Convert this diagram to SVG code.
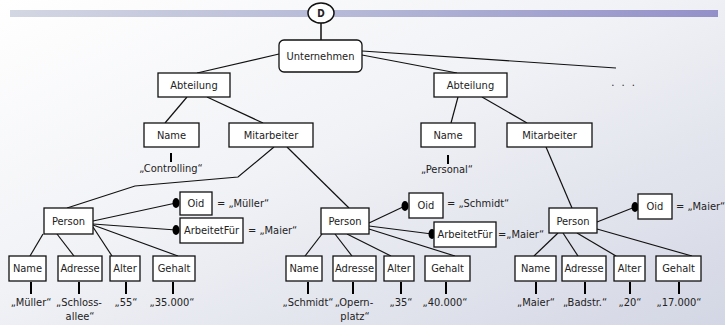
<svg xmlns="http://www.w3.org/2000/svg" width="725" height="325" viewBox="0 0 725 325">
<defs>
<linearGradient id="bg" x1="0" y1="0" x2="1" y2="1">
<stop offset="0" stop-color="#ffffff"/>
<stop offset="0.45" stop-color="#f1f2f6"/>
<stop offset="1" stop-color="#d3d6e4"/>
</linearGradient>
<linearGradient id="bar" x1="0" y1="0" x2="1" y2="0">
<stop offset="0" stop-color="#d3d7e3"/>
<stop offset="0.5" stop-color="#b4b7d6"/>
<stop offset="1" stop-color="#9390c9"/>
</linearGradient>
<style>
text{font-family:"DejaVu Sans Condensed","DejaVu Sans","Liberation Sans",sans-serif;font-size:11px;fill:#222;font-stretch:condensed}
.c{text-anchor:middle}
.box{fill:#fff;stroke:#111;stroke-width:1.3}
.ln{stroke:#111;stroke-width:1.2;fill:none}
.tk{stroke:#000;stroke-width:2}
.dot{fill:#000}
</style>
</defs>
<rect width="725" height="325" fill="url(#bg)"/>
<rect x="10" y="10" width="708" height="7" fill="url(#bar)"/>

<g id="connectors">
<line class="ln" x1="321" y1="23" x2="321" y2="40" style="stroke-width:1.5"/>
<line class="ln" x1="279" y1="54" x2="197" y2="73"/>
<line class="ln" x1="362" y1="55" x2="457" y2="73"/>
<line class="ln" x1="362" y1="51" x2="616" y2="68"/>
<line class="ln" x1="187" y1="97" x2="165" y2="123"/>
<line class="ln" x1="207" y1="97" x2="263" y2="123"/>
<line class="ln" x1="458" y1="97" x2="451" y2="123"/>
<line class="ln" x1="482" y1="97" x2="527" y2="123"/>
<polyline class="ln" points="274,147 238,177 135,186 67,208"/>
<line class="ln" x1="287" y1="147" x2="349" y2="208"/>
<line class="ln" x1="546" y1="147" x2="572" y2="208"/>
<line class="ln" x1="93" y1="221" x2="176" y2="203"/>
<line class="ln" x1="93" y1="224" x2="176" y2="230"/>
<line class="ln" x1="43" y1="234" x2="30" y2="256"/>
<line class="ln" x1="57" y1="234" x2="74" y2="256"/>
<line class="ln" x1="93" y1="227" x2="112" y2="256"/>
<line class="ln" x1="93" y1="225" x2="178" y2="256"/>
<line class="ln" x1="369" y1="223" x2="405" y2="206"/>
<line class="ln" x1="369" y1="226" x2="432" y2="234"/>
<line class="ln" x1="369" y1="229" x2="455" y2="256"/>
<line class="ln" x1="322" y1="234" x2="305" y2="256"/>
<line class="ln" x1="335" y1="234" x2="352" y2="256"/>
<line class="ln" x1="347" y1="234" x2="391" y2="256"/>
<line class="ln" x1="597" y1="222" x2="635" y2="207"/>
<line class="ln" x1="597" y1="229" x2="692" y2="256"/>
<line class="ln" x1="558" y1="233" x2="534" y2="256"/>
<line class="ln" x1="563" y1="233" x2="578" y2="256"/>
<line class="ln" x1="577" y1="233" x2="616" y2="256"/>
<ellipse class="dot" cx="176" cy="203" rx="3.5" ry="5"/>
<ellipse class="dot" cx="176" cy="230" rx="3.5" ry="5"/>
<ellipse class="dot" cx="405" cy="206" rx="3.5" ry="5"/>
<ellipse class="dot" cx="432" cy="234" rx="3.5" ry="5"/>
<ellipse class="dot" cx="635" cy="207" rx="3.5" ry="5"/>
<line class="tk" x1="171" y1="153" x2="171" y2="162"/>
<line class="tk" x1="448" y1="155" x2="448" y2="164"/>
<line class="tk" x1="31" y1="282" x2="31" y2="294"/>
<line class="tk" x1="79" y1="282" x2="79" y2="294"/>
<line class="tk" x1="126" y1="282" x2="126" y2="294"/>
<line class="tk" x1="173" y1="282" x2="173" y2="294"/>
<line class="tk" x1="308" y1="282" x2="308" y2="294"/>
<line class="tk" x1="353" y1="282" x2="353" y2="294"/>
<line class="tk" x1="401" y1="282" x2="401" y2="294"/>
<line class="tk" x1="446" y1="282" x2="446" y2="294"/>
<line class="tk" x1="536" y1="282" x2="536" y2="294"/>
<line class="tk" x1="585" y1="282" x2="585" y2="294"/>
<line class="tk" x1="630" y1="282" x2="630" y2="294"/>
<line class="tk" x1="679" y1="282" x2="679" y2="294"/>
</g>

<g id="d"><ellipse cx="321" cy="13" rx="13" ry="10" fill="#fff" stroke="#111" stroke-width="1.5"/><text class="c" x="321" y="17" style="font-weight:bold;font-size:10px">D</text></g>
<g id="unternehmen"><rect class="box" x="279" y="40" width="83" height="32" rx="5"/><text class="c" x="320.5" y="60">Unternehmen</text></g>
<g id="abt1"><rect class="box" x="158" y="73" width="72" height="24"/><text class="c" x="194" y="89">Abteilung</text></g>
<g id="abt2"><rect class="box" x="434" y="73" width="73" height="24"/><text class="c" x="470.5" y="89">Abteilung</text></g>
<g id="more"><text class="c" x="624" y="86" style="letter-spacing:2px">. . .</text></g>
<g id="name1"><rect class="box" x="144" y="123" width="55" height="24"/><text class="c" x="171.5" y="139">Name</text></g>
<g id="mit1"><rect class="box" x="229" y="123" width="84" height="24"/><text class="c" x="271" y="139">Mitarbeiter</text></g>
<g id="name2"><rect class="box" x="421" y="123" width="54" height="24"/><text class="c" x="448" y="139">Name</text></g>
<g id="mit2"><rect class="box" x="507" y="123" width="85" height="24"/><text class="c" x="549.5" y="139">Mitarbeiter</text></g>
<g id="val-controlling"><text class="c" x="171" y="172">„Controlling“</text></g>
<g id="val-personal"><text class="c" x="447" y="173">„Personal“</text></g>

<g id="person1"><rect class="box" x="44" y="208" width="49" height="26"/><text class="c" x="68.5" y="225">Person</text></g>
<g id="oid1"><rect class="box" x="180" y="192" width="32" height="23"/><text class="c" x="196" y="207">Oid</text><text x="217" y="207">= „Müller“</text></g>
<g id="af1"><rect class="box" x="180" y="218" width="63" height="25"/><text class="c" x="211.5" y="234">ArbeitetFür</text><text x="248" y="234">= „Maier“</text></g>
<g id="p1name"><rect class="box" x="9" y="256" width="37" height="25"/><text class="c" x="27.5" y="272">Name</text><text class="c" x="31" y="306">„Müller“</text></g>
<g id="p1adr"><rect class="box" x="58" y="256" width="44" height="25"/><text class="c" x="80" y="272">Adresse</text><text class="c" x="79" y="306">„Schloss-</text><text class="c" x="80" y="320">allee“</text></g>
<g id="p1alter"><rect class="box" x="110" y="256" width="30" height="25"/><text class="c" x="125" y="272">Alter</text><text class="c" x="126" y="306">„55“</text></g>
<g id="p1geh"><rect class="box" x="153" y="256" width="42" height="25"/><text class="c" x="174" y="272">Gehalt</text><text class="c" x="172" y="306">„35.000“</text></g>

<g id="person2"><rect class="box" x="321" y="208" width="48" height="26"/><text class="c" x="345" y="225">Person</text></g>
<g id="oid2"><rect class="box" x="409" y="193" width="34" height="25"/><text class="c" x="426" y="209">Oid</text><text x="447" y="207">= „Schmidt“</text></g>
<g id="af2"><rect class="box" x="434" y="222" width="62" height="25"/><text class="c" x="465" y="238">ArbeitetFür</text><text x="498" y="238">=„Maier“</text></g>
<g id="p2name"><rect class="box" x="286" y="256" width="36" height="25"/><text class="c" x="304" y="272">Name</text><text class="c" x="308" y="306">„Schmidt“</text></g>
<g id="p2adr"><rect class="box" x="333" y="256" width="43" height="25"/><text class="c" x="354.5" y="272">Adresse</text><text class="c" x="354" y="306">„Opern-</text><text class="c" x="355" y="320">platz“</text></g>
<g id="p2alter"><rect class="box" x="384" y="256" width="30" height="25"/><text class="c" x="399" y="272">Alter</text><text class="c" x="401" y="306">„35“</text></g>
<g id="p2geh"><rect class="box" x="425" y="256" width="45" height="25"/><text class="c" x="447.5" y="272">Gehalt</text><text class="c" x="445" y="306">„40.000“</text></g>

<g id="person3"><rect class="box" x="549" y="208" width="48" height="25"/><text class="c" x="573" y="225">Person</text></g>
<g id="oid3"><rect class="box" x="638" y="194" width="34" height="25"/><text class="c" x="655" y="210">Oid</text><text x="676" y="210">= „Maier“</text></g>
<g id="p3name"><rect class="box" x="515" y="256" width="41" height="25"/><text class="c" x="535.5" y="272">Name</text><text class="c" x="536" y="306">„Maier“</text></g>
<g id="p3adr"><rect class="box" x="562" y="256" width="44" height="25"/><text class="c" x="584" y="272">Adresse</text><text class="c" x="585" y="306">„Badstr.“</text></g>
<g id="p3alter"><rect class="box" x="614" y="256" width="31" height="25"/><text class="c" x="629.5" y="272">Alter</text><text class="c" x="630" y="306">„20“</text></g>
<g id="p3geh"><rect class="box" x="656" y="256" width="45" height="25"/><text class="c" x="678.5" y="272">Gehalt</text><text class="c" x="679" y="306">„17.000“</text></g>
</svg>
